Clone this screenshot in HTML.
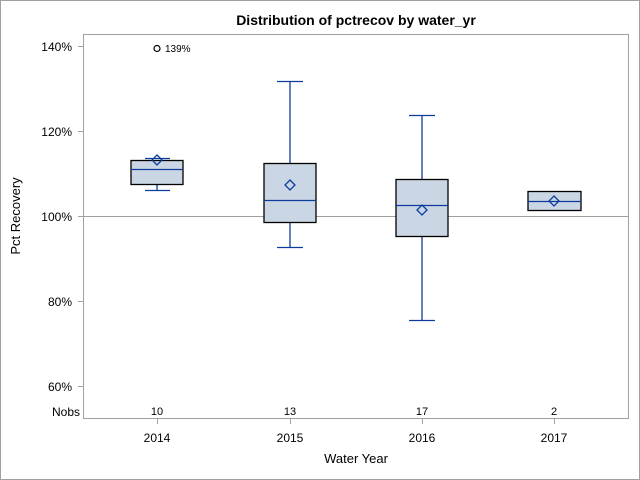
<!DOCTYPE html>
<html><head><style>body{margin:0}svg{display:block}</style></head><body>
<svg width="640" height="480" xmlns="http://www.w3.org/2000/svg" font-family="Liberation Sans, Arial, sans-serif">
<rect x="0.5" y="0.5" width="639" height="479" fill="#fff" stroke="#a0a0a0"/>
<text x="356" y="25" text-anchor="middle" font-size="14" font-weight="bold">Distribution of pctrecov by water_yr</text>
<rect x="83.5" y="34.5" width="545" height="384" fill="none" stroke="#a0a0a0"/>
<line x1="83" y1="216.5" x2="628" y2="216.5" stroke="#a0a0a0"/>
<g stroke="#a0a0a0"><line x1="78" y1="46.5" x2="83" y2="46.5"/><line x1="78" y1="131.5" x2="83" y2="131.5"/><line x1="78" y1="216.5" x2="83" y2="216.5"/><line x1="78" y1="301.5" x2="83" y2="301.5"/><line x1="78" y1="386.5" x2="83" y2="386.5"/>
<line x1="157.5" y1="419" x2="157.5" y2="424"/><line x1="290.5" y1="419" x2="290.5" y2="424"/><line x1="422.5" y1="419" x2="422.5" y2="424"/><line x1="554.5" y1="419" x2="554.5" y2="424"/></g>
<g font-size="12" text-anchor="end" fill="#000"><text x="72" y="51">140%</text><text x="72" y="136">120%</text><text x="72" y="221">100%</text><text x="72" y="306">80%</text><text x="72" y="391">60%</text></g>
<text x="20" y="216" transform="rotate(-90 20 216)" text-anchor="middle" font-size="13">Pct Recovery</text>
<text x="80" y="416" text-anchor="end" font-size="12">Nobs</text>
<g font-size="11" text-anchor="middle"><text x="157" y="415">10</text><text x="290" y="415">13</text><text x="422" y="415">17</text><text x="554" y="415">2</text></g>
<g font-size="12" text-anchor="middle"><text x="157" y="442">2014</text><text x="290" y="442">2015</text><text x="422" y="442">2016</text><text x="554" y="442">2017</text></g>
<text x="356" y="463" text-anchor="middle" font-size="13">Water Year</text>
<g stroke="#0b3c9c" stroke-width="1.3" fill="none">
<line x1="157" y1="184" x2="157" y2="190"/><line x1="145" y1="190.5" x2="170" y2="190.5"/><line x1="145" y1="158.5" x2="170" y2="158.5"/>
<line x1="290" y1="163" x2="290" y2="81"/><line x1="277" y1="81.5" x2="303" y2="81.5"/><line x1="290" y1="222" x2="290" y2="247"/><line x1="277" y1="247.5" x2="303" y2="247.5"/>
<line x1="422" y1="179" x2="422" y2="115"/><line x1="409" y1="115.5" x2="435" y2="115.5"/><line x1="422" y1="236" x2="422" y2="320"/><line x1="409" y1="320.5" x2="435" y2="320.5"/>
</g>
<g fill="#cbd6e5" stroke="#000" stroke-width="1.3">
<rect x="131" y="160.5" width="52" height="24"/><rect x="264" y="163.5" width="52" height="59"/><rect x="396" y="179.5" width="52" height="57"/><rect x="528" y="191.5" width="53" height="19"/></g>
<g stroke="#0b3c9c" stroke-width="1.3" fill="none">
<line x1="131" y1="169.5" x2="183" y2="169.5"/><line x1="264" y1="200.5" x2="316" y2="200.5"/><line x1="396" y1="205.5" x2="448" y2="205.5"/><line x1="528" y1="201.5" x2="581" y2="201.5"/>
<polygon points="157,155 162,160 157,165 152,160"/><polygon points="290,180 295,185 290,190 285,185"/><polygon points="422,205 427,210 422,215 417,210"/><polygon points="554,196 559,201 554,206 549,201"/>
</g>
<circle cx="157" cy="48.5" r="3" fill="none" stroke="#000" stroke-width="1.2"/>
<text x="165" y="52" font-size="10">139%</text>
</svg>
</body></html>
